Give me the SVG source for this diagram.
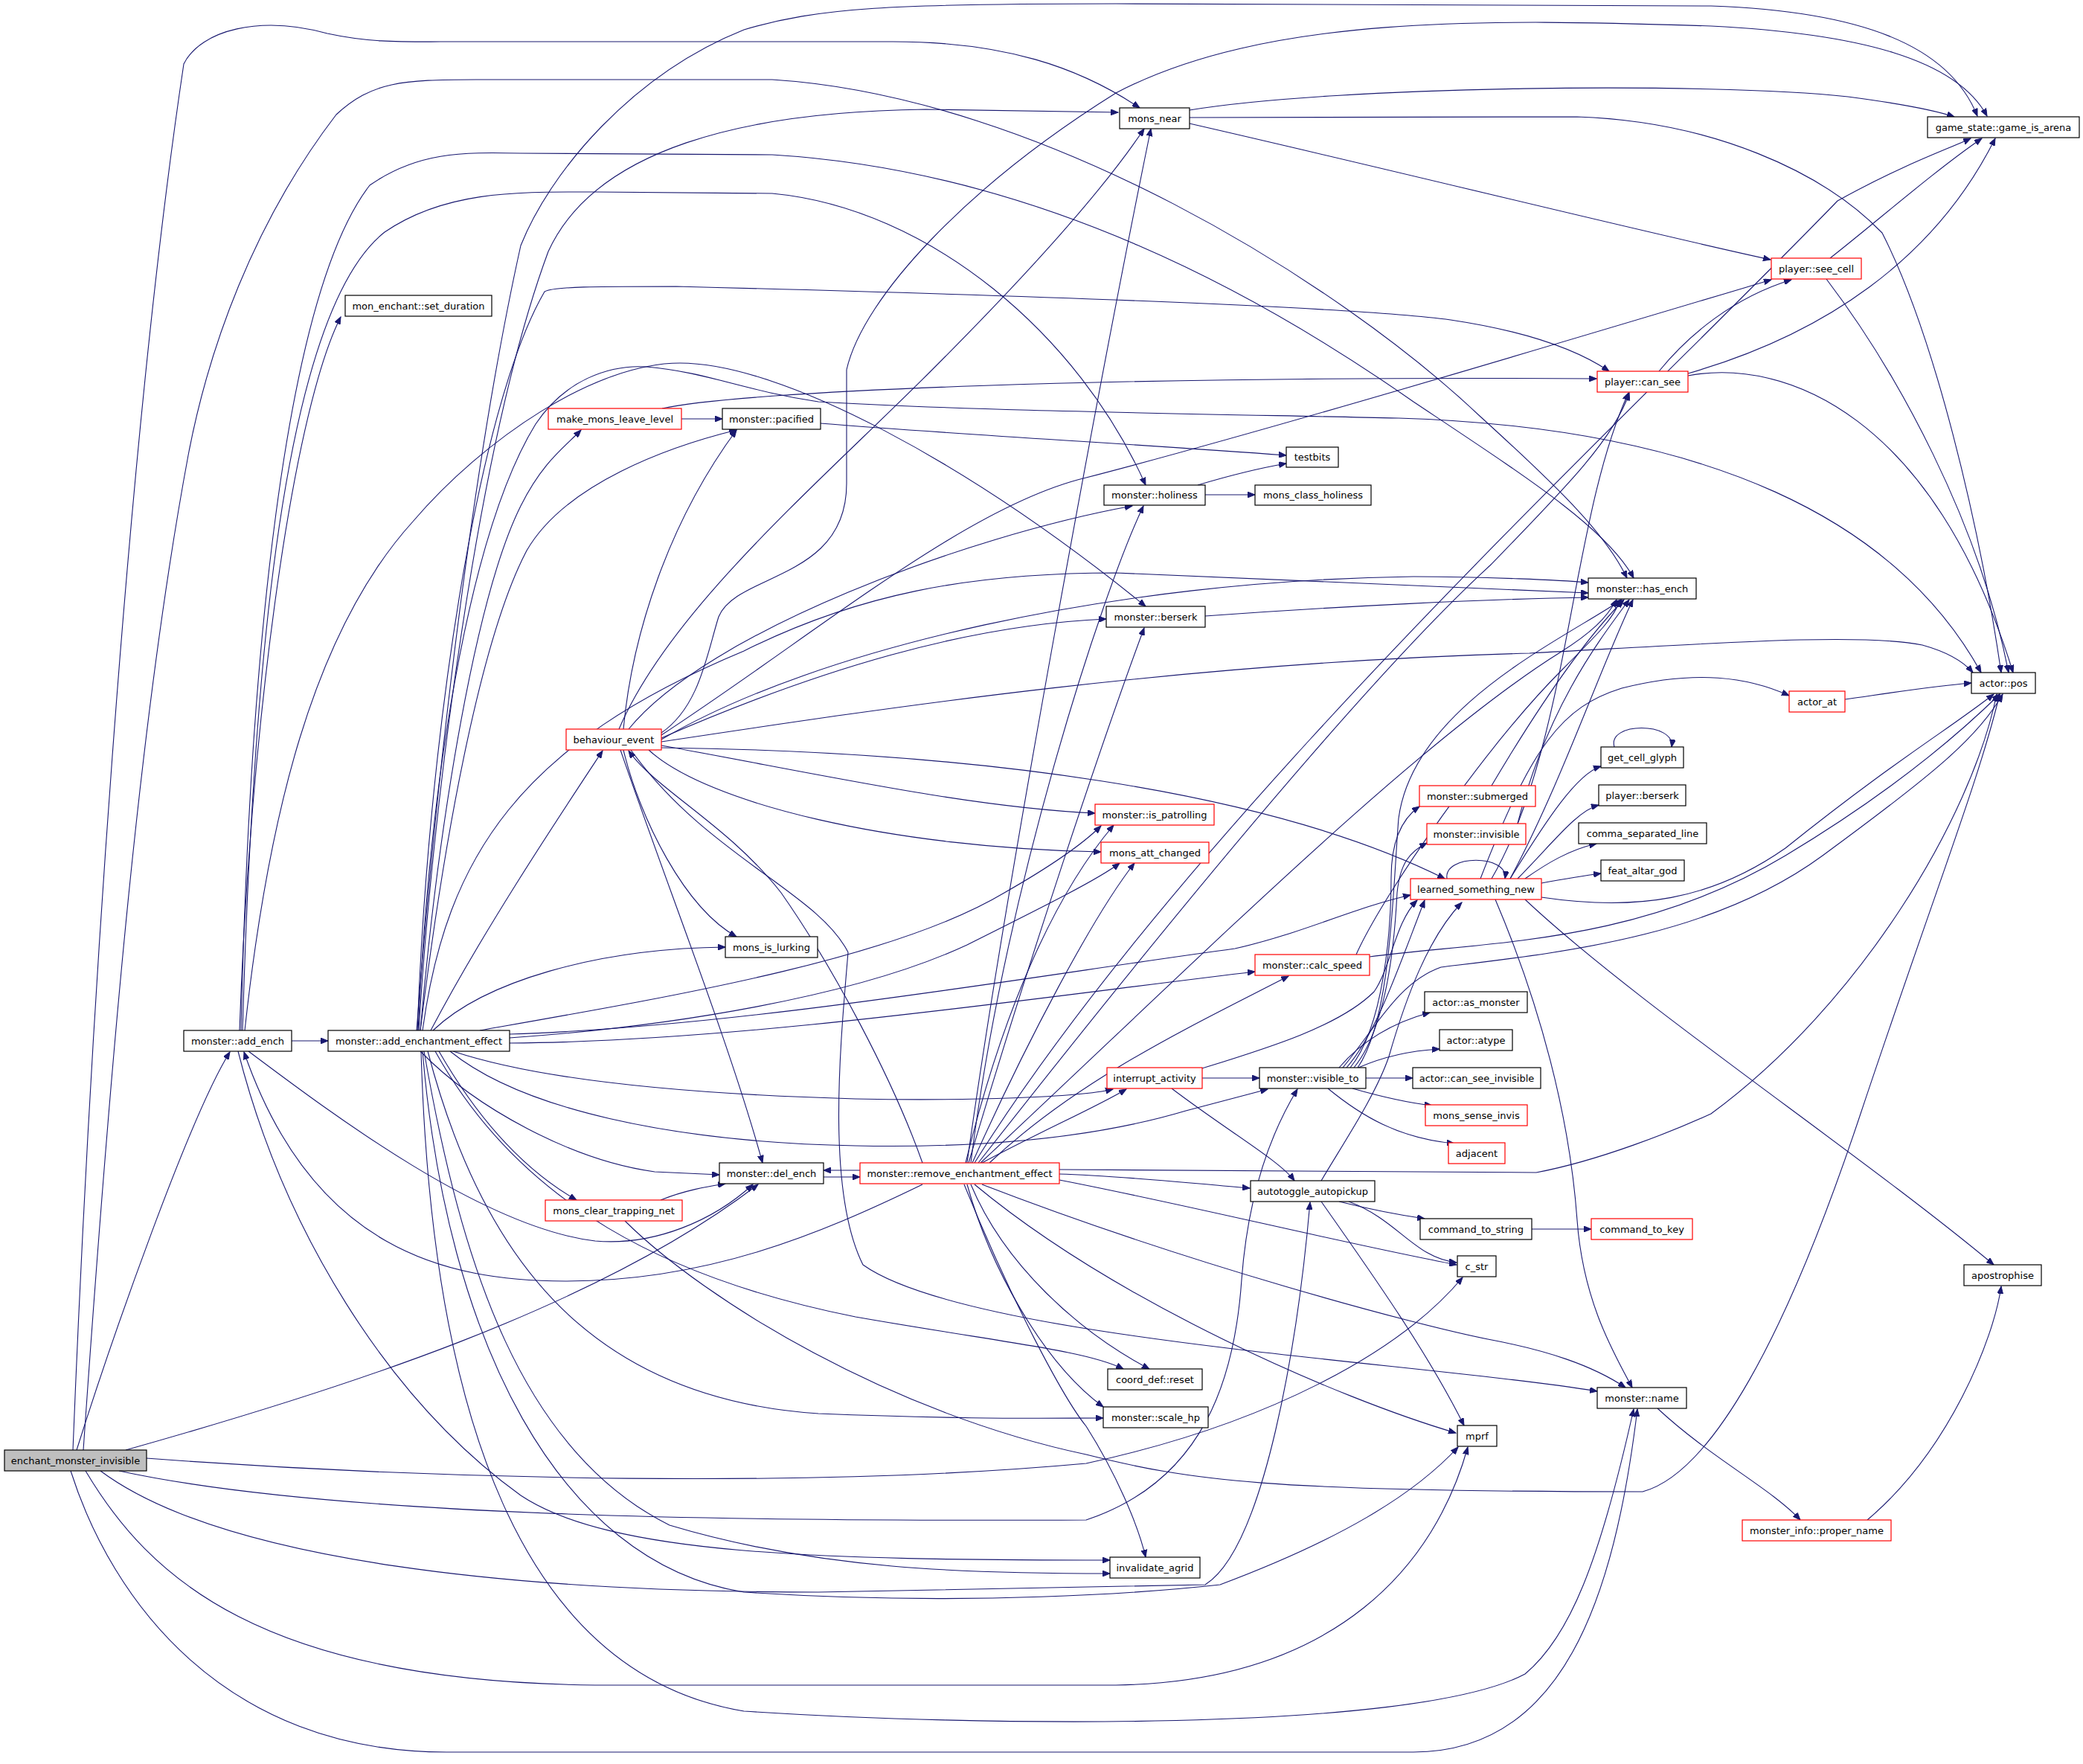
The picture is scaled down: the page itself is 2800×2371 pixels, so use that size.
<svg xmlns="http://www.w3.org/2000/svg" width="2800" height="2371" viewBox="0 0 2800 2371">
<style>
.e{fill:none;stroke:#191970;stroke-width:1.1;marker-end:url(#a)}
.b{fill:#fff;stroke:#000;stroke-width:1.2}
.r{fill:#fff;stroke:#ff0000;stroke-width:1.2}
.g{fill:#bfbfbf;stroke:#000;stroke-width:1.2}
text{font-family:"DejaVu Sans","Liberation Sans",sans-serif;font-size:13px;fill:#000;text-anchor:middle}
</style>
<defs>
<marker id="a" markerWidth="11" markerHeight="8" refX="10" refY="4" orient="auto" markerUnits="userSpaceOnUse"><path d="M0,0 L10,4 L0,8 z" fill="#191970" stroke="#191970" stroke-width="1"/></marker>
</defs>
<rect width="2800" height="2371" fill="#fff"/>
<g id="edges">
<path class="e" d="M103,1949 C150,1800 255,1500 309,1414"/>
<path class="e" d="M169,1949 C450,1870 800,1760 1019,1592"/>
<path class="e" d="M98,1949 C120,1400 170,600 247,86 C270,40 350,20 440,45 C500,58 540,56 620,56 L1200,56 C1350,56 1450,90 1532,145"/>
<path class="e" d="M112,1949 C150,1400 190,950 253,612 C280,470 340,300 452,154 C500,110 540,107 640,107 L1038,107 C1400,130 1800,380 1990,560 C2100,660 2160,720 2187,777"/>
<path class="e" d="M95,1977 C150,2150 300,2355 600,2355 L1900,2355 C2100,2355 2170,2150 2201,1894"/>
<path class="e" d="M115,1977 C200,2120 350,2260 800,2265 L1500,2265 C1800,2260 1930,2100 1973,1945"/>
<path class="e" d="M135,1977 C300,2100 700,2140 1100,2140 L1620,2130 C1700,2080 1745,1800 1761,1616"/>
<path class="e" d="M160,1977 C450,2040 1000,2045 1460,2043 C1620,1990 1660,1850 1669,1720 C1678,1600 1710,1520 1744,1464"/>
<path class="e" d="M197,1960 C600,1990 1100,2000 1460,1967 C1700,1915 1880,1820 1966,1717"/>
<path class="e" d="M392,1399 L441,1399"/>
<path class="e" d="M322,1385 C335,1000 390,560 458,426"/>
<path class="e" d="M326,1385 C340,900 380,420 517,312 C600,255 700,258 800,258 L1038,260 C1250,280 1450,450 1540,652"/>
<path class="e" d="M324,1385 C335,900 380,400 497,249 C560,205 620,204 700,206 L1038,208 C1400,230 1700,400 1900,540 C2050,640 2160,710 2196,777"/>
<path class="e" d="M329,1385 C360,1100 420,850 555,701 C650,590 800,488 914,488 C1050,488 1300,620 1540,815"/>
<path class="e" d="M334,1413 C450,1500 650,1650 800,1668 C880,1675 960,1640 1012,1592"/>
<path class="e" d="M320,1413 C380,1650 520,1880 700,2010 C820,2090 1100,2097 1492,2097"/>
<path class="e" d="M1240,1592 C1100,1660 950,1722 760,1722 C600,1722 420,1680 328,1414"/>
<path class="e" d="M560,1385 C590,1000 640,600 700,330 C740,230 850,100 1000,40 C1100,10 1200,5 1500,5 L2300,8 C2500,15 2620,60 2658,156"/>
<path class="e" d="M563,1385 C580,1100 640,600 737,338 C800,200 1000,150 1244,147 L1503,151"/>
<path class="e" d="M561,1385 C575,1000 640,550 732,392 C745,385 800,385 909,385 C1300,395 1800,410 1950,430 C2050,445 2120,470 2163,499"/>
<path class="e" d="M565,1385 C590,1100 640,800 700,680 C730,620 760,600 781,578"/>
<path class="e" d="M565,1385 C600,1100 650,850 708,740 C760,650 900,600 990,578"/>
<path class="e" d="M562,1385 C580,1000 640,700 720,570 C760,510 820,490 869,493 C950,500 1000,525 1100,540 C1300,552 1600,556 1880,562 C2300,575 2550,700 2663,904"/>
<path class="e" d="M568,1385 C600,1150 700,1000 1000,875 C1150,800 1300,770 1500,770 L2135,797"/>
<path class="e" d="M579,1385 C650,1250 750,1100 810,1009"/>
<path class="e" d="M582,1385 C650,1320 800,1275 975,1273"/>
<path class="e" d="M645,1385 C900,1340 1200,1290 1350,1200 C1420,1160 1460,1130 1480,1110"/>
<path class="e" d="M685,1395 C900,1380 1150,1340 1300,1270 C1400,1220 1480,1180 1505,1160"/>
<path class="e" d="M685,1390 C1000,1380 1400,1310 1660,1275 C1750,1255 1820,1220 1896,1203"/>
<path class="e" d="M685,1402 C1000,1400 1400,1340 1687,1306"/>
<path class="e" d="M609,1413 C720,1450 900,1470 1150,1477 C1300,1480 1450,1475 1496,1464"/>
<path class="e" d="M605,1413 C700,1490 900,1535 1150,1540 C1300,1543 1460,1533 1594,1493 L1704,1464"/>
<path class="e" d="M565,1413 C640,1490 770,1560 880,1575 L967,1579"/>
<path class="e" d="M590,1413 C640,1500 700,1570 775,1613"/>
<path class="e" d="M585,1413 C700,1620 900,1720 1150,1770 C1350,1805 1460,1815 1510,1840"/>
<path class="e" d="M575,1413 C650,1700 800,1880 1100,1900 C1300,1908 1400,1906 1483,1906"/>
<path class="e" d="M570,1413 C620,1700 700,1950 900,2050 C1100,2110 1300,2115 1492,2115"/>
<path class="e" d="M568,1413 C600,1800 750,2100 1000,2140 C1300,2160 1550,2140 1640,2130 C1800,2070 1900,2010 1960,1945"/>
<path class="e" d="M566,1413 C580,1900 700,2250 1000,2300 C1300,2320 1900,2330 2050,2250 C2110,2200 2150,2100 2196,1894"/>
<path class="e" d="M832,980 C900,820 1100,650 1250,500 C1380,370 1480,260 1538,173"/>
<path class="e" d="M889,985 C940,950 950,880 966,829 C990,770 1138,780 1138,650 L1138,497 C1160,400 1300,250 1500,125 C1700,20 2000,25 2300,35 C2500,45 2630,80 2671,156"/>
<path class="e" d="M838,980 C850,850 900,700 990,578"/>
<path class="e" d="M889,988 C1100,850 1300,680 1460,642 C1700,580 2100,460 2381,376"/>
<path class="e" d="M845,980 C950,850 1300,720 1522,680"/>
<path class="e" d="M889,992 C1100,900 1300,840 1487,832"/>
<path class="e" d="M889,994 C1100,870 1500,780 1900,775 C2000,775 2100,780 2135,783"/>
<path class="e" d="M889,997 C1200,950 1600,890 2056,878 C2300,865 2500,850 2584,867 C2620,877 2640,890 2652,904"/>
<path class="e" d="M889,1002 C1100,1040 1300,1085 1472,1093"/>
<path class="e" d="M872,1008 C950,1080 1200,1140 1480,1145"/>
<path class="e" d="M889,1005 C1300,1010 1700,1060 1942,1181"/>
<path class="e" d="M838,1008 C860,1100 920,1220 990,1259"/>
<path class="e" d="M834,1008 C900,1200 980,1400 1025,1563"/>
<path class="e" d="M848,1008 C950,1150 1100,1200 1140,1280 C1130,1400 1110,1600 1160,1700 C1300,1800 1900,1830 2147,1870"/>
<path class="e" d="M1240,1563 C1200,1450 1120,1300 1050,1200 C980,1110 880,1060 845,1009"/>
<path class="e" d="M1156,1573 L1107,1573"/>
<path class="e" d="M1107,1582 L1156,1582"/>
<path class="e" d="M1300,1563 C1350,1200 1480,500 1547,173"/>
<path class="e" d="M1310,1563 C1600,1100 2200,550 2470,270 C2560,220 2620,200 2649,186"/>
<path class="e" d="M1305,1563 C1350,1200 1480,800 1537,680"/>
<path class="e" d="M1302,1563 C1380,1300 1480,1000 1538,844"/>
<path class="e" d="M1298,1563 C1350,1350 1420,1200 1497,1109"/>
<path class="e" d="M1307,1563 C1380,1400 1470,1230 1525,1160"/>
<path class="e" d="M1320,1563 C1400,1520 1470,1490 1514,1464"/>
<path class="e" d="M1315,1563 C1600,1200 1850,900 2003,760 C2100,660 2170,590 2190,528"/>
<path class="e" d="M1318,1563 C1600,1300 1900,1000 2097,877 C2140,850 2160,830 2173,806"/>
<path class="e" d="M1330,1563 C1450,1450 1600,1380 1732,1312"/>
<path class="e" d="M1424,1578 C1500,1580 1600,1590 1680,1597"/>
<path class="e" d="M1424,1586 C1600,1620 1800,1670 1958,1700"/>
<path class="e" d="M1305,1592 C1350,1700 1450,1790 1545,1840"/>
<path class="e" d="M1300,1592 C1330,1700 1400,1830 1483,1891"/>
<path class="e" d="M1296,1592 C1360,1750 1430,1880 1460,1917 C1500,1980 1530,2050 1540,2093"/>
<path class="e" d="M1310,1592 C1500,1750 1800,1880 1957,1926"/>
<path class="e" d="M1320,1592 C1600,1700 1900,1780 2000,1800 C2080,1815 2140,1835 2185,1865"/>
<path class="e" d="M1424,1572 L2065,1576 C2150,1560 2250,1520 2300,1497 C2500,1350 2650,1100 2684,933"/>
<path class="e" d="M916,563 L971,563"/>
<path class="e" d="M890,549 C1000,525 1500,505 2146,509"/>
<path class="e" d="M1103,569 C1300,585 1500,595 1729,612"/>
<path class="e" d="M1610,652 C1650,640 1700,628 1729,623"/>
<path class="e" d="M1620,665 L1687,665"/>
<path class="e" d="M1620,828 C1800,815 2000,805 2135,803"/>
<path class="e" d="M1599,148 C1800,115 2300,110 2484,130 C2560,140 2600,148 2627,157"/>
<path class="e" d="M1599,158 L2120,157 C2300,163 2450,230 2530,313 C2600,450 2660,700 2690,904"/>
<path class="e" d="M1599,166 C1900,235 2200,310 2380,349"/>
<path class="e" d="M2460,347 C2520,300 2600,230 2664,186"/>
<path class="e" d="M2455,375 C2550,500 2660,700 2700,904"/>
<path class="e" d="M2230,499 C2270,450 2330,400 2408,376"/>
<path class="e" d="M2269,502 C2450,450 2600,350 2682,186"/>
<path class="e" d="M2269,505 C2400,480 2600,560 2706,904"/>
<path class="e" d="M1616,1449 L1693,1449"/>
<path class="e" d="M1575,1463 C1650,1520 1720,1560 1740,1587"/>
<path class="e" d="M1616,1436 C1700,1410 1800,1380 1847,1333 C1870,1300 1875,1240 1905,1210"/>
<path class="e" d="M1836,1449 L1899,1449"/>
<path class="e" d="M1818,1463 C1860,1475 1890,1482 1925,1486"/>
<path class="e" d="M1785,1463 C1830,1500 1880,1530 1955,1537"/>
<path class="e" d="M1815,1435 C1860,1380 1870,1250 1870,1180 C1870,1130 1885,1100 1908,1084"/>
<path class="e" d="M1820,1435 C1865,1380 1875,1260 1878,1200 C1882,1160 1895,1145 1918,1133"/>
<path class="e" d="M1825,1435 C1870,1370 1872,1200 1880,1100 C1900,950 2100,860 2180,806"/>
<path class="e" d="M1810,1435 C1850,1390 1880,1300 1915,1210"/>
<path class="e" d="M1800,1435 C1830,1400 1870,1375 1922,1361"/>
<path class="e" d="M1826,1435 C1860,1420 1900,1412 1935,1410"/>
<path class="e" d="M1805,1435 C1850,1380 1880,1320 1937,1300 C2100,1280 2300,1260 2450,1150 C2600,1040 2660,990 2692,933"/>
<path class="e" d="M1800,1615 C1840,1625 1880,1633 1915,1638"/>
<path class="e" d="M1813,1615 C1880,1640 1900,1690 1958,1697"/>
<path class="e" d="M1776,1615 C1850,1720 1920,1820 1968,1916"/>
<path class="e" d="M1776,1587 C1810,1530 1850,1470 1867,1420 C1890,1340 1920,1260 1965,1213"/>
<path class="e" d="M2059,1652 L2139,1652"/>
<path class="e" d="M1945,1181 C1940,1148 2028,1148 2023,1181"/>
<path class="e" d="M2030,1181 C2080,1100 2120,1040 2152,1030"/>
<path class="e" d="M2040,1181 C2090,1130 2120,1090 2149,1082"/>
<path class="e" d="M2050,1181 C2080,1160 2110,1142 2146,1134"/>
<path class="e" d="M2072,1187 C2100,1182 2130,1177 2152,1174"/>
<path class="e" d="M2030,1181 C2100,1050 2150,900 2195,806"/>
<path class="e" d="M2005,1181 C2110,1000 2110,700 2189,528"/>
<path class="e" d="M1990,1181 C2060,1000 2100,950 2180,925 C2280,900 2350,910 2405,935"/>
<path class="e" d="M2072,1206 C2200,1225 2300,1210 2400,1140 C2550,1020 2620,980 2680,933"/>
<path class="e" d="M2010,1209 C2070,1350 2110,1500 2120,1640 C2128,1750 2170,1820 2194,1865"/>
<path class="e" d="M2050,1209 C2200,1350 2500,1550 2680,1700"/>
<path class="e" d="M2170,1004 C2160,970 2252,970 2247,1004"/>
<path class="e" d="M2005,1056 C2050,980 2120,870 2183,806"/>
<path class="e" d="M2040,1107 C2080,950 2150,860 2190,806"/>
<path class="e" d="M1823,1283 C1860,1200 2000,1000 2100,900 C2150,850 2170,830 2178,806"/>
<path class="e" d="M1841,1286 C2000,1265 2200,1270 2400,1150 C2550,1060 2640,980 2688,933"/>
<path class="e" d="M2480,940 C2550,930 2600,922 2650,918"/>
<path class="e" d="M2228,1893 C2300,1960 2380,2000 2420,2043"/>
<path class="e" d="M2510,2043 C2620,1950 2680,1800 2690,1729"/>
<path class="e" d="M888,1613 C920,1600 950,1595 975,1591"/>
<path class="e" d="M840,1641 C950,1750 1200,1900 1460,1955 C1600,1990 1700,2005 2208,2005 C2300,1980 2400,1800 2500,1500 C2600,1200 2660,1050 2688,933"/>
</g>
<g id="n-enchant_monster_invisible"><rect class="g" x="6" y="1949" width="191" height="28"/><text x="101.5" y="1968">enchant_monster_invisible</text></g>
<g id="n-add_ench"><rect class="b" x="247" y="1385" width="145" height="28"/><text x="319.5" y="1404">monster::add_ench</text></g>
<g id="n-add_enchantment_effect"><rect class="b" x="441" y="1385" width="244" height="28"/><text x="563" y="1404">monster::add_enchantment_effect</text></g>
<g id="n-set_duration"><rect class="b" x="464" y="397" width="197" height="28"/><text x="562.5" y="416">mon_enchant::set_duration</text></g>
<g id="n-make_mons_leave_level"><rect class="r" x="737" y="549" width="179" height="28"/><text x="826.5" y="568">make_mons_leave_level</text></g>
<g id="n-pacified"><rect class="b" x="971" y="549" width="132" height="28"/><text x="1037" y="568">monster::pacified</text></g>
<g id="n-behaviour_event"><rect class="r" x="761" y="980" width="128" height="28"/><text x="825" y="999">behaviour_event</text></g>
<g id="n-mons_is_lurking"><rect class="b" x="975" y="1259" width="124" height="28"/><text x="1037" y="1278">mons_is_lurking</text></g>
<g id="n-del_ench"><rect class="b" x="967" y="1563" width="140" height="28"/><text x="1037" y="1582">monster::del_ench</text></g>
<g id="n-mons_clear_trapping_net"><rect class="r" x="733" y="1613" width="184" height="28"/><text x="825" y="1632">mons_clear_trapping_net</text></g>
<g id="n-remove_enchantment_effect"><rect class="r" x="1156" y="1563" width="268" height="28"/><text x="1290" y="1582">monster::remove_enchantment_effect</text></g>
<g id="n-mons_near"><rect class="b" x="1505" y="145" width="94" height="28"/><text x="1552" y="164">mons_near</text></g>
<g id="n-holiness"><rect class="b" x="1484" y="652" width="136" height="27"/><text x="1552" y="670">monster::holiness</text></g>
<g id="n-testbits"><rect class="b" x="1729" y="601" width="70" height="27"/><text x="1764" y="619">testbits</text></g>
<g id="n-mons_class_holiness"><rect class="b" x="1687" y="652" width="156" height="27"/><text x="1765" y="670">mons_class_holiness</text></g>
<g id="n-berserk"><rect class="b" x="1487" y="815" width="133" height="28"/><text x="1553.5" y="834">monster::berserk</text></g>
<g id="n-is_patrolling"><rect class="r" x="1472" y="1081" width="160" height="28"/><text x="1552" y="1100">monster::is_patrolling</text></g>
<g id="n-mons_att_changed"><rect class="r" x="1480" y="1132" width="145" height="28"/><text x="1552.5" y="1151">mons_att_changed</text></g>
<g id="n-interrupt_activity"><rect class="r" x="1488" y="1435" width="128" height="28"/><text x="1552" y="1454">interrupt_activity</text></g>
<g id="n-visible_to"><rect class="b" x="1693" y="1435" width="143" height="28"/><text x="1764.5" y="1454">monster::visible_to</text></g>
<g id="n-can_see_invisible"><rect class="b" x="1899" y="1435" width="172" height="28"/><text x="1985" y="1454">actor::can_see_invisible</text></g>
<g id="n-mons_sense_invis"><rect class="r" x="1916" y="1485" width="137" height="28"/><text x="1984.5" y="1504">mons_sense_invis</text></g>
<g id="n-adjacent"><rect class="r" x="1947" y="1536" width="76" height="28"/><text x="1985" y="1555">adjacent</text></g>
<g id="n-autotoggle_autopickup"><rect class="b" x="1681" y="1587" width="167" height="28"/><text x="1764.5" y="1606">autotoggle_autopickup</text></g>
<g id="n-command_to_string"><rect class="b" x="1909" y="1638" width="150" height="28"/><text x="1984" y="1657">command_to_string</text></g>
<g id="n-command_to_key"><rect class="r" x="2139" y="1638" width="136" height="28"/><text x="2207" y="1657">command_to_key</text></g>
<g id="n-c_str"><rect class="b" x="1959" y="1688" width="52" height="28"/><text x="1985" y="1707">c_str</text></g>
<g id="n-coord_def_reset"><rect class="b" x="1489" y="1840" width="127" height="28"/><text x="1552.5" y="1859">coord_def::reset</text></g>
<g id="n-scale_hp"><rect class="b" x="1483" y="1891" width="141" height="28"/><text x="1553.5" y="1910">monster::scale_hp</text></g>
<g id="n-invalidate_agrid"><rect class="b" x="1492" y="2093" width="121" height="28"/><text x="1552.5" y="2112">invalidate_agrid</text></g>
<g id="n-mprf"><rect class="b" x="1959" y="1916" width="53" height="28"/><text x="1985.5" y="1935">mprf</text></g>
<g id="n-game_is_arena"><rect class="b" x="2591" y="157" width="204" height="28"/><text x="2693" y="176">game_state::game_is_arena</text></g>
<g id="n-see_cell"><rect class="r" x="2381" y="347" width="121" height="28"/><text x="2441.5" y="366">player::see_cell</text></g>
<g id="n-can_see"><rect class="r" x="2147" y="499" width="122" height="28"/><text x="2208" y="518">player::can_see</text></g>
<g id="n-has_ench"><rect class="b" x="2135" y="777" width="145" height="28"/><text x="2207.5" y="796">monster::has_ench</text></g>
<g id="n-actor_pos"><rect class="b" x="2650" y="904" width="86" height="28"/><text x="2693" y="923">actor::pos</text></g>
<g id="n-actor_at"><rect class="r" x="2405" y="929" width="75" height="28"/><text x="2442.5" y="948">actor_at</text></g>
<g id="n-get_cell_glyph"><rect class="b" x="2152" y="1004" width="111" height="28"/><text x="2207.5" y="1023">get_cell_glyph</text></g>
<g id="n-player_berserk"><rect class="b" x="2149" y="1055" width="117" height="28"/><text x="2207.5" y="1074">player::berserk</text></g>
<g id="n-comma_separated_line"><rect class="b" x="2122" y="1106" width="172" height="28"/><text x="2208" y="1125">comma_separated_line</text></g>
<g id="n-feat_altar_god"><rect class="b" x="2152" y="1156" width="112" height="28"/><text x="2208" y="1175">feat_altar_god</text></g>
<g id="n-submerged"><rect class="r" x="1908" y="1056" width="156" height="28"/><text x="1986" y="1075">monster::submerged</text></g>
<g id="n-invisible"><rect class="r" x="1918" y="1107" width="133" height="28"/><text x="1984.5" y="1126">monster::invisible</text></g>
<g id="n-learned_something_new"><rect class="r" x="1896" y="1181" width="176" height="28"/><text x="1984" y="1200">learned_something_new</text></g>
<g id="n-calc_speed"><rect class="r" x="1687" y="1283" width="154" height="28"/><text x="1764" y="1302">monster::calc_speed</text></g>
<g id="n-as_monster"><rect class="b" x="1915" y="1333" width="138" height="28"/><text x="1984" y="1352">actor::as_monster</text></g>
<g id="n-atype"><rect class="b" x="1935" y="1384" width="98" height="28"/><text x="1984" y="1403">actor::atype</text></g>
<g id="n-apostrophise"><rect class="b" x="2640" y="1700" width="104" height="28"/><text x="2692" y="1719">apostrophise</text></g>
<g id="n-monster_name"><rect class="b" x="2147" y="1865" width="120" height="28"/><text x="2207" y="1884">monster::name</text></g>
<g id="n-proper_name"><rect class="r" x="2342" y="2043" width="200" height="28"/><text x="2442" y="2062">monster_info::proper_name</text></g>
</svg>
